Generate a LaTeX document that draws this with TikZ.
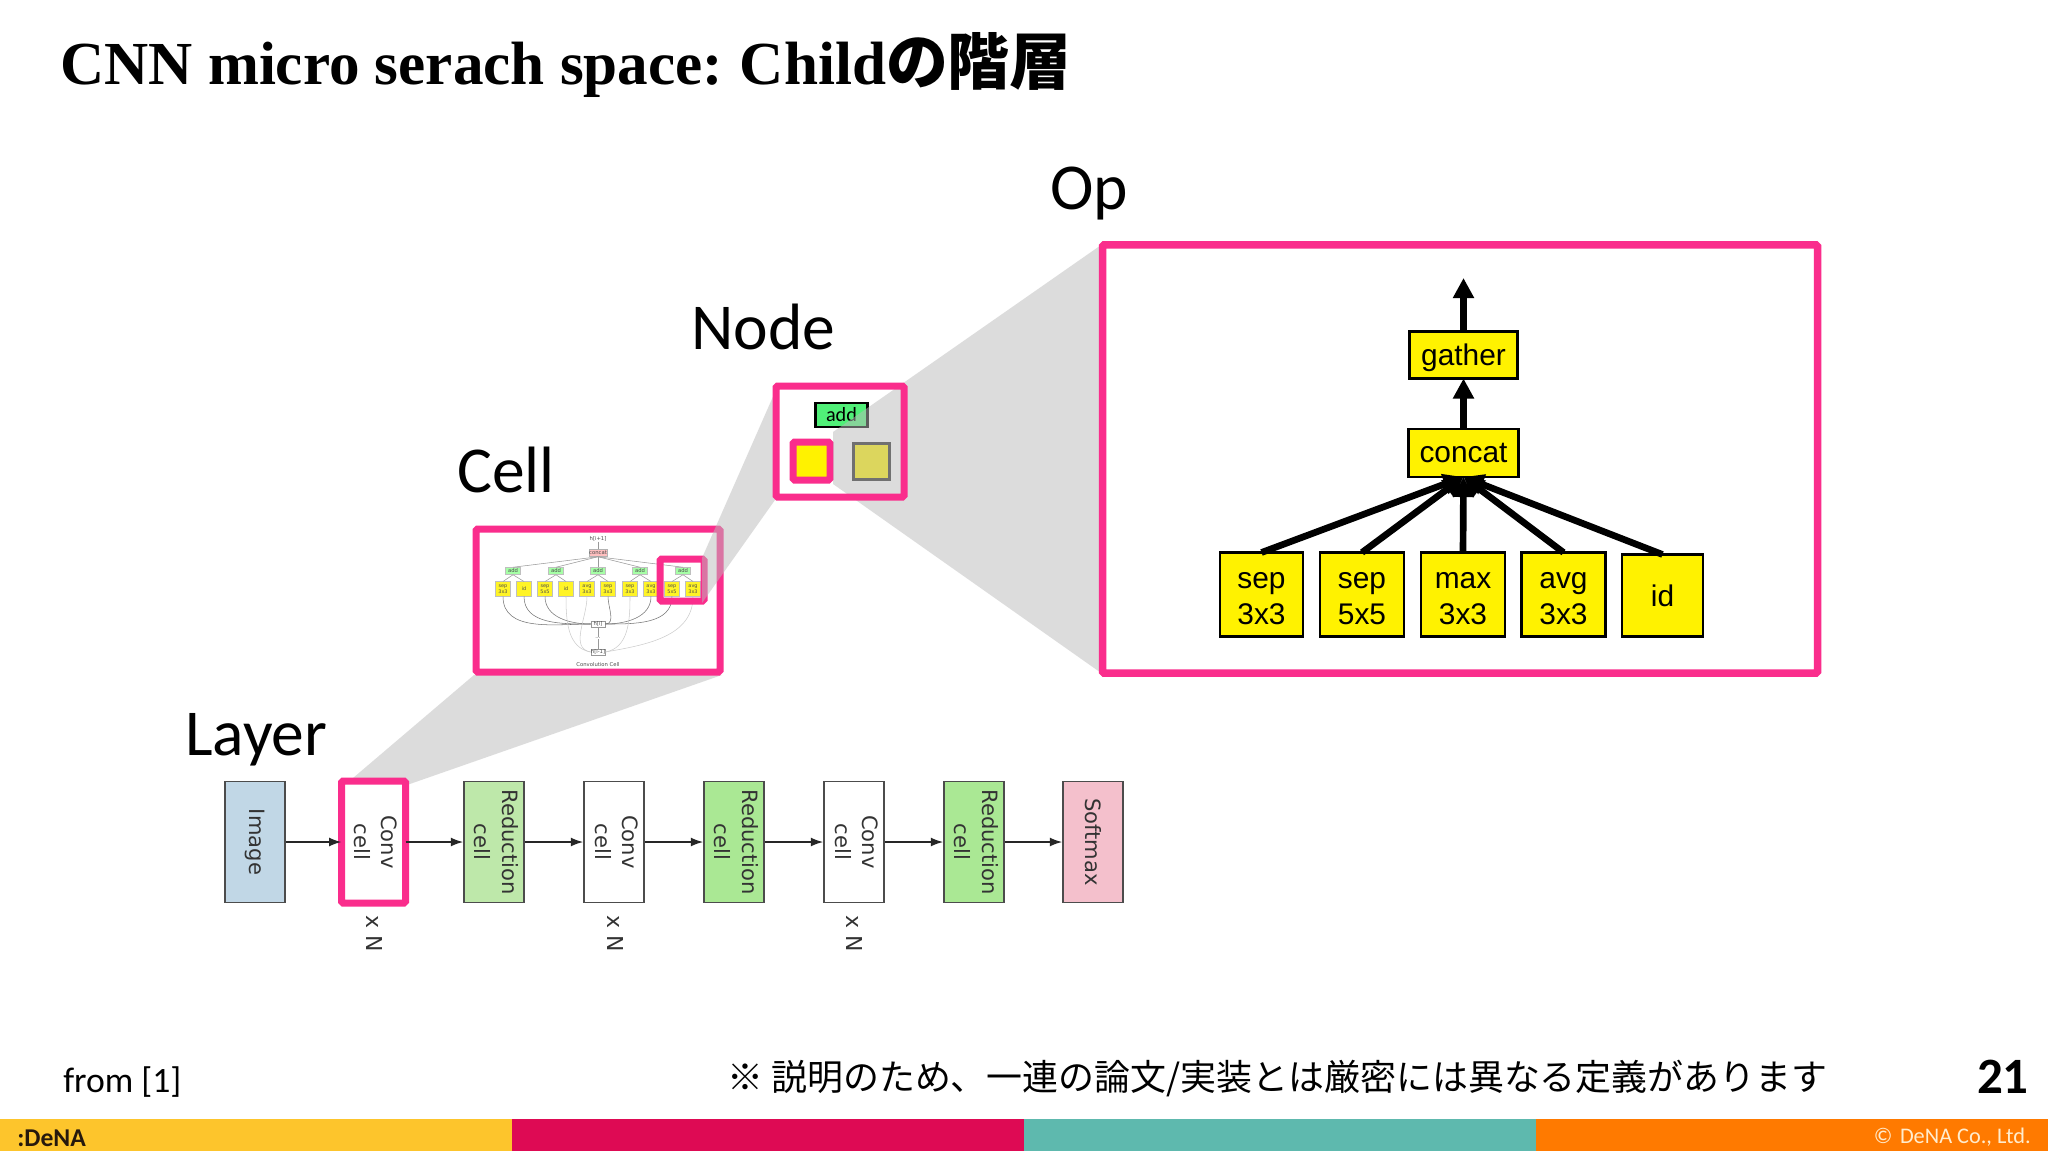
\documentclass[tikz,border=0pt]{standalone}
\usepackage{fontspec}
\setmainfont{Carlito}
\newfontfamily\jpfont{Noto Sans CJK JP}
\newfontfamily\titlefont{Liberation Serif}
\newfontfamily\dejafont{DejaVu Sans}
\newfontfamily\arialfont{Liberation Sans}
\usetikzlibrary{arrows.meta}
\newcommand{\pxu}{0.02cm}
\newcommand{\oplift}{\rule{0pt}{13.6pt}}
\definecolor{dpink}{RGB}{250,45,140}
\definecolor{funnelgray}{RGB}{187,187,187}
\definecolor{addgreen}{RGB}{80,240,120}
\definecolor{barorange}{RGB}{255,122,0}
\definecolor{barteal}{RGB}{94,185,174}
\definecolor{barred}{RGB}{222,10,84}
\definecolor{baryellow}{RGB}{253,197,44}
\tikzset{
    lbl/.style={anchor=base west,inner sep=0pt,font=\fontsize{37.3pt}{40pt}\selectfont},
    pinkbox/.style={draw=dpink,line width=7*\pxu,rounded corners=1.5*\pxu,inner sep=0pt,outer sep=0pt},
    funnel/.style={fill=funnelgray,opacity=0.5},
    layerbox/.style={draw=black!70,line width=1.5*\pxu,inner sep=0pt,rotate=-90,align=center,
        minimum width=121*\pxu,minimum height=60*\pxu,text=black!80,
        font=\dejafont\fontsize{12pt}{15.5pt}\selectfont},
    twolines/.style={text depth=2.8pt},
    layerarrow/.style={-{Latex[length=7pt,width=5pt]},line width=1.5*\pxu,black!85},
    xntext/.style={rotate=-90,inner sep=0pt,text=black!80,font=\dejafont\fontsize{12.5pt}{14pt}\selectfont},
    opbox/.style={draw=black,fill=yellow,line width=2.5*\pxu,inner sep=0pt,outer sep=0pt,align=center,
        font=\arialfont\fontsize{17pt}{20.5pt}\selectfont},
    oparrow/.style={-{Triangle[length=11.4pt,width=11.4pt]},line width=3.8pt},
    miniyellow/.style={draw=black!25,fill=yellow!85!white,line width=0.3pt,inner sep=0pt,align=center,
        minimum width=14.5*\pxu,minimum height=14.5*\pxu,text=black!70,
        font=\dejafont\fontsize{2.8pt}{3.2pt}\selectfont},
    miniadd/.style={draw=black!25,fill=green!35!white,line width=0.3pt,inner sep=0pt,
        minimum width=15*\pxu,minimum height=7*\pxu,text=black!70,
        font=\dejafont\fontsize{3pt}{3.2pt}\selectfont},
    minitxt/.style={inner sep=0pt,text=black!70,font=\dejafont\fontsize{3pt}{3.2pt}\selectfont},
    miniline/.style={draw=black!40,line width=0.3pt},
}

\begin{document}
\begin{tikzpicture}[x=\pxu,y=-\pxu]
    \useasboundingbox (0,0) rectangle (2048,1152);
    \fill[white] (0,0) rectangle (2048,1152);

    \node[anchor=base west,inner sep=0pt,font=\titlefont\bfseries\fontsize{34.8pt}{38pt}\selectfont] (title) at (60,85)
        {CNN micro serach space:\hspace{-2pt} Child{\jpfont\bfseries\fontsize{35.2pt}{38pt}\selectfont の階層}};

    \node[lbl] (layerlbl) at (185,755) {Layer};
    \node[lbl] (celllbl) at (457,492) {Cell};
    \node[lbl] (nodelbl) at (691,349) {Node};
    \node[lbl] (oplbl) at (1050,210) {Op};

    % layer to cell
    \fill[funnel] (353,778) -- (474,675) -- (722,675) -- (407,785) -- cycle;

    % layers
    \node[layerbox,fill={rgb,255:red,193;green,215;blue,230}] (image) at (255,842) {Image};
    \node[layerbox,twolines,fill=white,minimum width=122*\pxu,minimum height=64*\pxu,pinkbox] (conv1) at (373.5,842) {Conv\\cell};
    \node[layerbox,twolines,fill={rgb,255:red,190;green,232;blue,170}] (red1) at (494,842) {Reduction\\cell};
    \node[layerbox,twolines,fill=white] (conv2) at (614,842) {Conv\\cell};
    \node[layerbox,twolines,fill={rgb,255:red,170;green,232;blue,148}] (red2) at (734,842) {Reduction\\cell};
    \node[layerbox,twolines,fill=white] (conv3) at (854,842) {Conv\\cell};
    \node[layerbox,twolines,fill={rgb,255:red,170;green,232;blue,148}] (red3) at (974,842) {Reduction\\cell};
    \node[layerbox,fill={rgb,255:red,244;green,192;blue,204}] (softmax) at (1093,842) {Softmax};

    \draw[layerarrow] (image.north) -- (conv1.south);
    \draw[layerarrow] (conv1.north) -- (red1.south);
    \draw[layerarrow] (red1.north) -- (conv2.south);
    \draw[layerarrow] (conv2.north) -- (red2.south);
    \draw[layerarrow] (red2.north) -- (conv3.south);
    \draw[layerarrow] (conv3.north) -- (red3.south);
    \draw[layerarrow] (red3.north) -- (softmax.south);

    \node[xntext] (xn1) at (375,934) {x N};
    \node[xntext] (xn2) at (615,934) {x N};
    \node[xntext] (xn3) at (854,934) {x N};

    % cell
    \node[pinkbox,fill=white,minimum width=244*\pxu,minimum height=143*\pxu] (cellbox) at (598,600.5) {};

    \node[minitxt] (hnext) at (598,539) {h[i+1]};
    \node[draw=black!30,fill=pink,line width=0.3pt,inner sep=0pt,minimum width=17*\pxu,minimum height=7*\pxu,
        text=black!70,font=\dejafont\fontsize{3pt}{3.2pt}\selectfont] (miniconcat) at (598,553) {concat};
    \draw[miniline] (hnext) -- (miniconcat);
    \foreach \i/\x in {1/513,2/556,3/598,4/640,5/683}{
        \node[miniadd] (add\i) at (\x,571) {add};
        \draw[miniline] (add\i.north) -- (miniconcat.south);
    }
    \foreach \i/\x/\t in {1/503/sep\\3x3,2/524/id,3/545/sep\\5x5,4/566/id,5/587/avg\\3x3,
        6/608/sep\\3x3,7/630/sep\\3x3,8/651/avg\\3x3,9/672/sep\\5x5,10/693/avg\\3x3}{
        \node[miniyellow] (my\i) at (\x,589) {\t};
    }
    \foreach \i/\j in {1/1,2/1,3/2,4/2,5/3,6/3,7/4,8/4,9/5,10/5}{
        \draw[miniline] (my\i.north) -- (add\j.south);
    }
    \node[draw=black!40,fill=white,line width=0.3pt,inner sep=0pt,minimum width=14*\pxu,minimum height=6*\pxu,
        text=black!70,font=\dejafont\fontsize{3pt}{3.2pt}\selectfont] (hcur) at (598,624) {h[i]};
    \node[draw=black!40,fill=white,line width=0.3pt,inner sep=0pt,minimum width=14*\pxu,minimum height=6*\pxu,
        text=black!70,font=\dejafont\fontsize{3pt}{3.2pt}\selectfont] (hprev) at (598,652) {h[i-1]};
    \node[minitxt] (hdots) at (598,638) {...};
    \node[minitxt] (minititle) at (598,665) {Convolution Cell};
    \foreach \i in {1,2,3}{
        \draw[miniline,black!55] (hcur.west) to[out=180,in=-90] (my\i.south);
    }
    \foreach \i in {6,8,9}{
        \draw[miniline,black!55] (hcur.east) to[out=0,in=-90] (my\i.south);
    }
    \foreach \i in {4,5}{
        \draw[miniline,black!20] (hprev.west) to[out=170,in=-90] (my\i.south);
    }
    \foreach \i in {7,10}{
        \draw[miniline,black!20] (hprev.east) to[out=10,in=-90] (my\i.south);
    }
    \draw[miniline] (hprev) -- (hdots) -- (hcur);

    \node[pinkbox,minimum width=44*\pxu,minimum height=42*\pxu] (cellpick) at (682,580) {};

    % cell to node
    \fill[funnel] (702,558) -- (775,392) -- (775,500) -- (702,603) -- cycle;

    % node
    \node[fill=white,minimum width=128*\pxu,minimum height=111*\pxu,inner sep=0pt] (nodeback) at (840,441.5) {};
    \node[draw=black,fill=addgreen,line width=2.5*\pxu,inner sep=0pt,minimum width=52*\pxu,minimum height=24*\pxu,
        font=\fontsize{11.5pt}{12pt}\selectfont] (addbox) at (841.5,415) {add};
    \node[pinkbox,fill=yellow,minimum width=37*\pxu,minimum height=38*\pxu] (nodepick) at (811.5,461) {};
    \node[draw=black!85,fill=yellow,line width=3*\pxu,inner sep=0pt,minimum width=36*\pxu,minimum height=36*\pxu] (nodeother) at (871,461) {};

    % node to op
    \fill[funnel] (833,432) -- (1104,243) -- (1104,675) -- (833,484) -- cycle;
    \node[pinkbox,minimum width=128*\pxu,minimum height=111*\pxu] (nodebox) at (840,441.5) {};

    % op
    \node[pinkbox,fill=white,line width=7.5*\pxu,minimum width=715*\pxu,minimum height=428*\pxu] (opframe) at (1460,459) {};
    \node[opbox,text depth=0pt,minimum width=108*\pxu,minimum height=47*\pxu] (gather) at (1463.5,355) {gather};
    \node[opbox,minimum width=110*\pxu,minimum height=48*\pxu] (concat) at (1463.5,453) {concat};
    \node[opbox,minimum width=83*\pxu,minimum height=84*\pxu] (sepa) at (1261.5,594.5) {\oplift sep\\3x3};
    \node[opbox,minimum width=84*\pxu,minimum height=84*\pxu] (sepb) at (1362,594.5) {\oplift sep\\5x5};
    \node[opbox,minimum width=84*\pxu,minimum height=84*\pxu] (maxp) at (1463,594.5) {\oplift max\\3x3};
    \node[opbox,minimum width=84*\pxu,minimum height=84*\pxu] (avgp) at (1563.5,594.5) {\oplift avg\\3x3};
    \node[opbox,minimum width=81*\pxu,minimum height=82*\pxu] (idop) at (1662.5,595.5) {id};
    \coordinate (optop) at (1463.5,278);

    % arrows
    \draw[oparrow] (gather.north) -- (optop);
    \draw[oparrow] (concat.north) -- (gather.south);
    \draw[oparrow] (sepa.north) -- (concat.south);
    \draw[oparrow] (sepb.north) -- (concat.south);
    \draw[oparrow] (maxp.north) -- (concat.south);
    \draw[oparrow] (avgp.north) -- (concat.south);
    \draw[oparrow] (idop.north) -- (concat.south);

    % footer
    \fill[baryellow] (0,1119) rectangle (512,1151);
    \fill[barred] (512,1119) rectangle (1024,1151);
    \fill[barteal] (1024,1119) rectangle (1536,1151);
    \fill[barorange] (1536,1119) rectangle (2048,1151);

    \node[anchor=base west,inner sep=0pt,text=black!80!brown,font=\bfseries\fontsize{14.6pt}{15pt}\selectfont] (logo) at (17,1146) {:DeNA};
    \node[anchor=base east,inner sep=0pt,text={rgb,255:red,255;green,236;blue,205},font=\fontsize{12.7pt}{14pt}\selectfont] (copyr) at (2031,1143) {©\,\,DeNA Co., Ltd.};
    \node[anchor=base west,inner sep=0pt,font=\fontsize{20.3pt}{22pt}\selectfont] (from) at (63,1092) {from [1]};
    \node[anchor=base west,inner sep=0pt,font=\jpfont\fontsize{20.45pt}{22pt}\selectfont] (note) at (727,1090) {※ 説明のため、一連の論文/実装とは厳密には異なる定義があります};
    \node[anchor=base east,inner sep=0pt,font=\bfseries\fontsize{29pt}{30pt}\selectfont] (pageno) at (2029,1093) {21};
\end{tikzpicture}
\end{document}
